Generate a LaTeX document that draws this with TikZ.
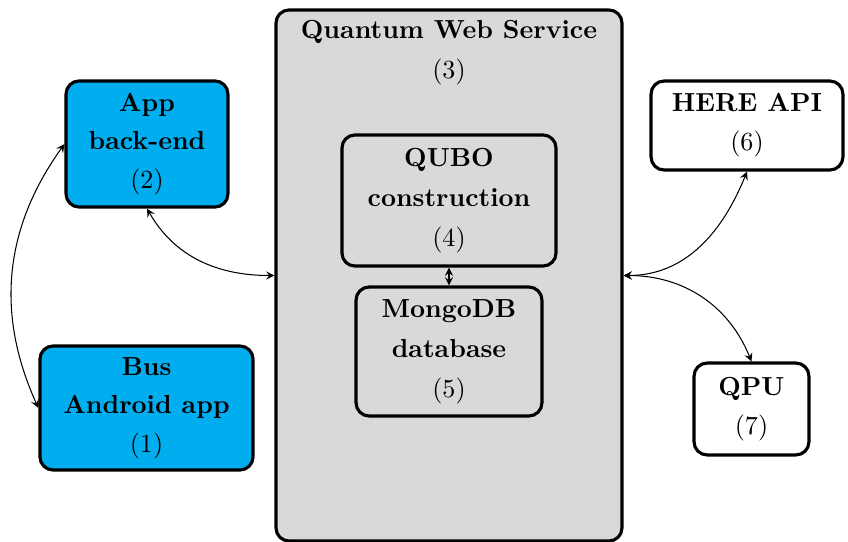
\documentclass[tikz,border=0pt]{standalone}
\usepackage{tikz}
\definecolor{appblue}{RGB}{0,174,239}
\definecolor{servgray}{RGB}{217,217,217}
\tikzstyle{block} = [draw=black, very thick, rounded corners=5pt, align=center, font={\bfseries}]
\tikzstyle{client} = [block, fill=appblue]
\tikzstyle{service} = [block, fill=servgray]
\tikzstyle{plain} = [block, fill=white]
\tikzstyle{link} = [<->, >=stealth]

\begin{document}
\begin{tikzpicture}[x=0.383pt, y=0.383pt]
    \useasboundingbox (0,0) rectangle (848,541);
    \node[service, minimum width=132.5pt, minimum height=203.4pt](3) at (449,265.5){};
    \node[align=center, font={\bfseries}, anchor=north](3t) at ([yshift=-1pt]3.north){Quantum Web Service\\[3.3pt]\normalfont(3)};
    \node[client, minimum width=62pt, minimum height=48.3pt](2) at (147,397){App\\[2.7pt]back-end\\[2.7pt]\normalfont(2)};
    \node[client, minimum width=81.6pt, minimum height=47.5pt](1) at (146.5,133){Bus\\[2.7pt]Android app\\[2.7pt]\normalfont(1)};
    \node[service, minimum width=82pt, minimum height=50.2pt](4) at (449,340.5){QUBO\\[3.3pt]construction\\[3.3pt]\normalfont(4)};
    \node[service, minimum width=71.2pt, minimum height=49.4pt](5) at (449,189.5){MongoDB\\[3.3pt]database\\[3.3pt]\normalfont(5)};
    \node[plain, minimum width=73.5pt, minimum height=34.1pt](6) at (747,415.5){HERE API\\[3pt]\normalfont(6)};
    \node[plain, minimum width=44pt, minimum height=35.2pt](7) at (751.5,132){QPU\\[3pt]\normalfont(7)};
    \draw[link](2.south) to[out=-60, in=180] (3.west);
    \draw[link](2.west) to[bend right=30] (1.west);
    \draw[link](4) -- (5);
    \draw[link](3.east) to[out=0, in=-112] (6.south);
    \draw[link](3.east) to[out=0, in=112] (7.north);
  \end{tikzpicture}
\end{document}
